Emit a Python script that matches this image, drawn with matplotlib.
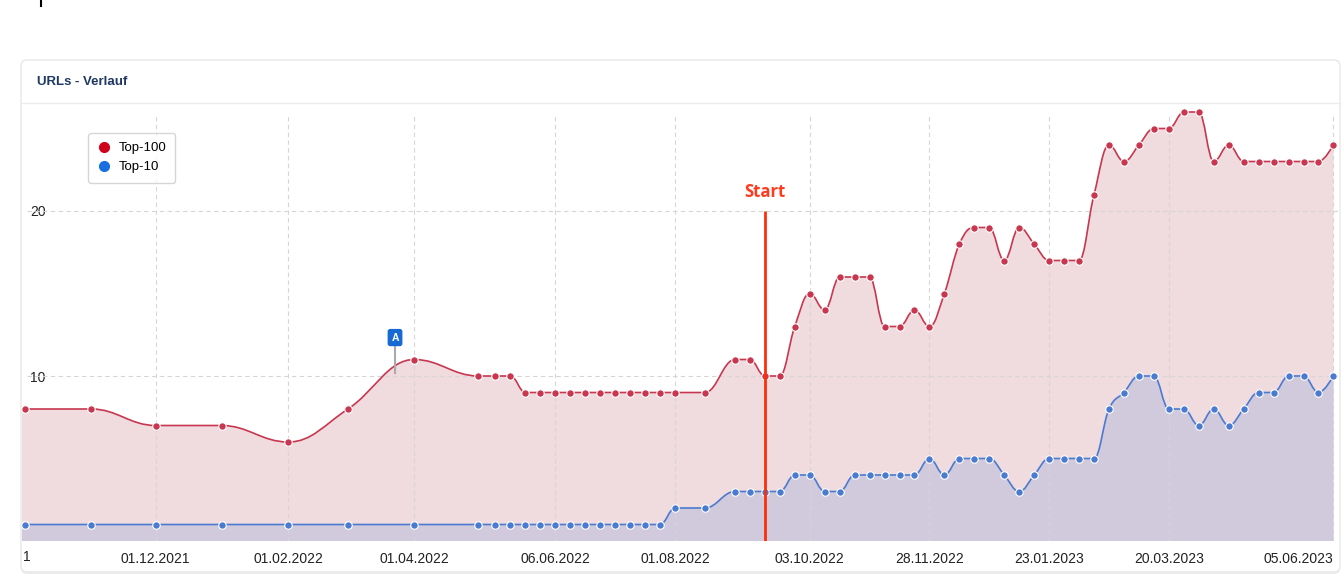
import matplotlib
matplotlib.use("Agg")
import matplotlib.pyplot as plt
import matplotlib.dates as mdates
from matplotlib.path import Path
from matplotlib.patches import PathPatch, FancyBboxPatch
from matplotlib.lines import Line2D
import pandas as pd

plt.rcParams["font.family"] = ["Liberation Sans", "DejaVu Sans"]

# data
dates = [
    "2021-10-01", "2021-11-01", "2021-12-01", "2022-01-01", "2022-02-01",
    "2022-03-01", "2022-04-01", "2022-05-01",
    "2022-05-09", "2022-05-16", "2022-05-23", "2022-05-30", "2022-06-06",
    "2022-06-13", "2022-06-20", "2022-06-27", "2022-07-04", "2022-07-11",
    "2022-07-18", "2022-07-25", "2022-08-01", "2022-08-15",
    "2022-08-29", "2022-09-05", "2022-09-12", "2022-09-19", "2022-09-26",
    "2022-10-03", "2022-10-10", "2022-10-17", "2022-10-24", "2022-10-31",
    "2022-11-07", "2022-11-14", "2022-11-21", "2022-11-28", "2022-12-05",
    "2022-12-12", "2022-12-19", "2022-12-26", "2023-01-02", "2023-01-09",
    "2023-01-16", "2023-01-23", "2023-01-30", "2023-02-06", "2023-02-13",
    "2023-02-20", "2023-02-27", "2023-03-06", "2023-03-13", "2023-03-20",
    "2023-03-27", "2023-04-03", "2023-04-10", "2023-04-17", "2023-04-24",
    "2023-05-01", "2023-05-08", "2023-05-15", "2023-05-22", "2023-05-29",
    "2023-06-05",
]
top100 = [
    8, 8, 7, 7, 6, 8, 11, 10,
    10, 10, 9, 9, 9, 9, 9, 9, 9, 9, 9, 9, 9, 9,
    11, 11, 10, 10, 13, 15, 14, 16, 16, 16, 13, 13, 14, 13, 15, 18, 19, 19,
    17, 19, 18, 17, 17, 17, 21, 24, 23, 24, 25, 25, 26, 26, 23, 24, 23, 23,
    23, 23, 23, 23, 24,
]
top10 = [
    1, 1, 1, 1, 1, 1, 1, 1,
    1, 1, 1, 1, 1, 1, 1, 1, 1, 1, 1, 1, 2, 2,
    3, 3, 3, 3, 4, 4, 3, 3, 4, 4, 4, 4, 4, 5, 4, 5, 5, 5,
    4, 3, 4, 5, 5, 5, 5, 8, 9, 10, 10, 8, 8, 7, 8, 7,
    8, 9, 9, 10, 10, 9, 10,
]
tick_dates = [
    "2021-12-01", "2022-02-01", "2022-04-01", "2022-06-06", "2022-08-01",
    "2022-10-03", "2022-11-28", "2023-01-23", "2023-03-20", "2023-06-05",
]
y_ticks = [10, 20]
start_date = "2022-09-12"
flag_date = "2022-03-23"

RED = "#c8374f"
BLUE = "#4a7bd0"
RED_FILL = "#f0dbde"
BLUE_FILL = "#d1c9dc"
GRID = "#d6d6d6"


def spline_path(xs, ys):
    # highcharts style spline: bezier control points, smoothing 1.5
    n = len(xs)
    sm = 1.5
    d = sm + 1
    conts = []
    for i in range(n):
        if i == 0 or i == n - 1:
            conts.append(None)
            continue
        x, y = xs[i], ys[i]
        lx, ly = xs[i - 1], ys[i - 1]
        nx, ny = xs[i + 1], ys[i + 1]
        lcx, lcy = (sm * x + lx) / d, (sm * y + ly) / d
        rcx, rcy = (sm * x + nx) / d, (sm * y + ny) / d
        if rcx != lcx:
            corr = (rcy - lcy) * (rcx - x) / (rcx - lcx) + y - rcy
            lcy += corr
            rcy += corr
        if lcy > ly and lcy > y:
            lcy = max(ly, y)
            rcy = 2 * y - lcy
        elif lcy < ly and lcy < y:
            lcy = min(ly, y)
            rcy = 2 * y - lcy
        if rcy > ny and rcy > y:
            rcy = max(ny, y)
            lcy = 2 * y - rcy
        elif rcy < ny and rcy < y:
            rcy = min(ny, y)
            lcy = 2 * y - rcy
        conts.append(((lcx, lcy), (rcx, rcy)))
    verts = [(xs[0], ys[0])]
    codes = [Path.MOVETO]
    for i in range(1, n):
        p = conts[i - 1][1] if conts[i - 1] else (xs[i - 1], ys[i - 1])
        q = conts[i][0] if conts[i] else (xs[i], ys[i])
        verts += [p, q, (xs[i], ys[i])]
        codes += [Path.CURVE4] * 3
    return verts, codes


x = mdates.date2num(pd.to_datetime(dates))
xl = mdates.date2num(pd.Timestamp("2021-09-29 12:00"))
xr = mdates.date2num(pd.Timestamp("2023-06-07 03:00"))

fig = plt.figure(figsize=(13.44, 5.8), dpi=100)

# card background in pixel coords
bg = fig.add_axes([0, 0, 1, 1])
bg.set_xlim(0, 1344)
bg.set_ylim(580, 0)
bg.axis("off")
bg.add_patch(FancyBboxPatch((21, 62), 1319, 512, boxstyle="round,pad=0,rounding_size=6",
                            fc="#ececec", ec="none"))
bg.add_patch(FancyBboxPatch((21, 60), 1319, 512, boxstyle="round,pad=0,rounding_size=6",
                            fc="white", ec="#e8e8e8", lw=1))
bg.plot([21, 1340], [103, 103], color="#ececec", lw=1)
bg.text(37, 82, "URLs - Verlauf", fontsize=9.5, fontweight="bold", color="#1f3864",
        va="center", ha="left")
bg.plot([41, 41], [0, 6], color="black", lw=1.5)
bg.text(22.5, 557, "1", fontsize=10, color="#222222", va="center", ha="left")

ax = fig.add_axes([22 / 1344, 39 / 580, 1316 / 1344, 435 / 580])
ax.set_facecolor("none")
ax.set_xlim(xl, xr)
ax.set_ylim(0, 435 / 16.5)
for s in ax.spines.values():
    s.set_visible(False)

for vals, fill_col, z in [(top100, RED_FILL, 1), (top10, BLUE_FILL, 2)]:
    verts, codes = spline_path([xl] + list(x), [vals[0]] + list(vals))
    fverts = verts + [(x[-1], 0), (xl, 0), (xl, vals[0])]
    fcodes = codes + [Path.LINETO, Path.LINETO, Path.CLOSEPOLY]
    ax.add_patch(PathPatch(Path(fverts, fcodes), fc=fill_col, ec="none", zorder=z))

tx = mdates.date2num(pd.to_datetime(tick_dates))
ax.vlines(tx, 0, 25.9, colors=GRID, linestyles=(0, (4, 3)), lw=0.8, zorder=3)
for yv in y_ticks:
    ax.axhline(yv, xmin=5 / 1316, color=GRID, ls=(0, (4, 3)), lw=0.8, zorder=3)

for vals, col, z in [(top100, RED, 5), (top10, BLUE, 6)]:
    verts, codes = spline_path([xl] + list(x), [vals[0]] + list(vals))
    ax.add_patch(PathPatch(Path(verts, codes), fc="none", ec=col, lw=1.2, zorder=z))
    ax.plot(x, vals, ls="none", marker="o", ms=5.4, mfc=col, mec="white", mew=0.8, zorder=z + 0.5)

# Start marker
sx = mdates.date2num(pd.Timestamp(start_date))
ax.plot([sx, sx], [0, 20], color="#ff2d0a", lw=2, zorder=10, solid_capstyle="butt")
ax.text(sx, 21.15, "Start", color="#ff3b1f", fontsize=12, fontweight="bold",
        family=["Open Sans", "DejaVu Sans"], ha="center", va="center", zorder=10)

# annotation flag
fx = mdates.date2num(pd.Timestamp(flag_date))
ax.plot([fx, fx], [10.2, 11.9], color="#aaaaaa", lw=1.5, zorder=7)
ax.text(fx, 12.33, "A", color="white", fontsize=7.5, fontweight="bold", ha="center", va="center",
        bbox=dict(boxstyle="round,pad=0.35,rounding_size=0.25", fc="#1769d4", ec="none"), zorder=8)

ax.set_xticks(tx)
ax.set_xticklabels([pd.Timestamp(d).strftime("%d.%m.%Y") for d in tick_dates])
ax.get_xticklabels()[-1].set_ha("right")
ax.tick_params(axis="x", length=0, pad=8, labelsize=10, labelcolor="#222222")
ax.set_yticks(y_ticks)
ax.set_yticklabels([str(v) for v in y_ticks])
ax.tick_params(axis="y", length=0, pad=-17, labelsize=10, labelcolor="#222222")

handles = [
    Line2D([], [], ls="none", marker="o", ms=7, color="#d0021b"),
    Line2D([], [], ls="none", marker="o", ms=7, color="#1a6fe0"),
]
fig.legend(handles, ["Top-100", "Top-10"], loc="upper left",
           bbox_to_anchor=(88 / 1344, 1 - 133 / 580), frameon=True, fancybox=True,
           edgecolor="#cccccc", fontsize=9.5, handlelength=1.0, handletextpad=0.6,
           borderpad=0.7, labelspacing=0.5, borderaxespad=0)

fig.savefig("out.png", dpi=100)
